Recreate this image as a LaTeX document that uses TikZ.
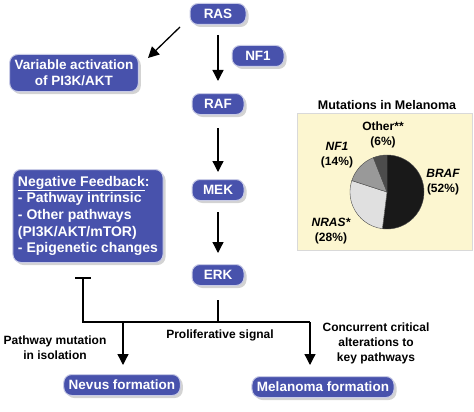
\documentclass[tikz,border=0pt]{standalone}
\usepackage{fontspec}
\setmainfont{Liberation Sans}
\usepackage{tikz}
\usetikzlibrary{positioning}
\usetikzlibrary{shadows}
\usetikzlibrary{calc}
\usetikzlibrary{arrows.meta}
\definecolor{boxblue}{RGB}{72,82,172}
\definecolor{pieback}{RGB}{252,246,208}

\begin{document}
\begin{tikzpicture}
  [
    x=1pt, y=-1pt,
    stepbox/.style={rounded corners=8pt, fill=boxblue, draw=white!70!boxblue,
      line width=1pt, text=white, font=\fontsize{13.5}{16}\selectfont\bfseries,
      drop shadow={opacity=0.35, shadow xshift=2.5pt, shadow yshift=-2.5pt},
      inner xsep=5pt, inner ysep=3pt, minimum height=21pt, align=center},
    lbl/.style={font=\fontsize{12}{15}\selectfont\bfseries, align=center},
    flow/.style={draw=black, line width=1.3pt, -{Triangle[width=11pt,length=11pt]}},
    pielbl/.style={font=\fontsize{12}{15}\selectfont\bfseries, align=center}
  ]
  \useasboundingbox (0,0) rectangle (474,412);

  % pathway
  \node (ras) at (218,14) [stepbox, minimum width=56pt] {RAS};
  \node (nf1) at (258,56) [stepbox, minimum width=52pt] {NF1};
  \node (raf) at (218,104) [stepbox, minimum width=52pt] {RAF};
  \node (mek) at (218,190) [stepbox, minimum width=52pt] {MEK};
  \node (erk) at (218,275) [stepbox, minimum width=52pt] {ERK};
  \node (pik) at (74,73) [stepbox, minimum width=128pt, minimum height=37pt]
    {Variable activation\\of PI3K/AKT};
  \node (feedback) at (88,216) [stepbox, align=left, minimum width=150pt,
    minimum height=93pt, font=\fontsize{14}{16.7}\selectfont\bfseries]
    {\underline{Negative Feedback}:\\- Pathway intrinsic\\- Other pathways\\(PI3K/AKT/mTOR)\\- Epigenetic changes};
  \node (nevus) at (122,385) [stepbox] {Nevus formation};
  \node (melanoma) at (323,387) [stepbox] {Melanoma formation};

  \coordinate (tee) at (83,278);
  \coordinate (split) at (218,322);
  \coordinate (leftend) at (83,322);
  \coordinate (rightend) at (310,322);
  \coordinate (pikin) at (148,58);
  \coordinate (rasout) at (180,27);

  \draw [flow] (ras.south) ++(0,10) -- ++(0,46);
  \draw [flow] (rasout) -- (pikin);
  \draw [flow] (raf.south) ++(0,13) -- ++(0,44);
  \draw [flow] (mek.south) ++(0,11) -- ++(0,41);
  \draw [line width=1.3pt] (erk.south) ++(0,14) -- (split);
  \draw [line width=1.3pt] (tee) -- (leftend) -- (rightend);
  \draw [line width=1.3pt] ($(tee)+(-8,0)$) -- ($(tee)+(8,0)$);
  \draw [flow] (123,322) -- (123,365);
  \draw [flow] (rightend) -- (310,365);

  \node (isolation) at (55,348) [lbl] {Pathway mutation\\in isolation};
  \node (prolif) at (220,335) [lbl] {Proliferative signal};
  \node (concurrent) at (376,343) [lbl] {Concurrent critical\\alterations to\\key pathways};

  % pie chart
  \node (pietitle) at (387,105) [lbl, font=\fontsize{12.5}{15}\selectfont\bfseries] {Mutations in Melanoma};
  \fill [pieback, draw=black!15] (297,113) rectangle (472,250);
  \coordinate (pc) at (387,192);
  \filldraw [fill=black!90, draw=black!70, line width=0.4pt]
    (pc) -- ++(-90:37) arc[start angle=-90, end angle=97.2, radius=37] -- cycle;
  \filldraw [fill=black!12, draw=black!70, line width=0.4pt]
    (pc) -- ++(97.2:37) arc[start angle=97.2, end angle=198, radius=37] -- cycle;
  \filldraw [fill=black!40, draw=black!70, line width=0.4pt]
    (pc) -- ++(198:37) arc[start angle=198, end angle=248.4, radius=37] -- cycle;
  \filldraw [fill=black!70, draw=black!70, line width=0.4pt]
    (pc) -- ++(248.4:37) arc[start angle=248.4, end angle=270, radius=37] -- cycle;

  \node (other) at (383,135) [pielbl] {Other**\\(6\%)};
  \node (nfone) at (337,155) [pielbl] {\itshape NF1\\(14\%)};
  \node (braf) at (443,182) [pielbl] {\itshape BRAF\\(52\%)};
  \node (nras) at (331,231) [pielbl] {\itshape NRAS*\\(28\%)};
\end{tikzpicture}
\end{document}
